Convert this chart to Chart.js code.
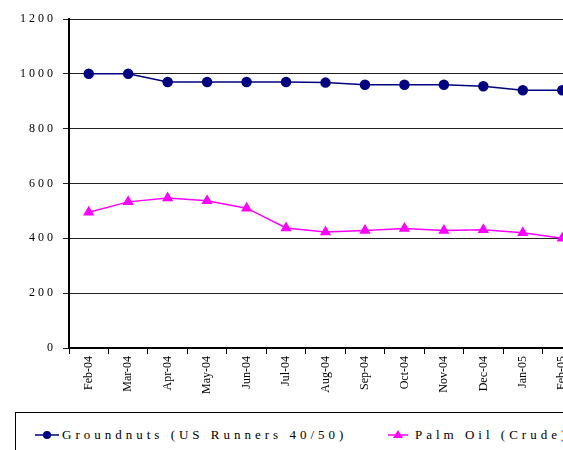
<!DOCTYPE html>
<html>
<head>
<meta charset="utf-8">
<script src="https://cdn.jsdelivr.net/npm/chart.js@4.4.0/dist/chart.umd.min.js"></script>
<style>
  body { margin: 0; overflow: hidden; background: #fff; width: 563px; height: 450px; position: relative; }
  #wrap { position: absolute; left: 0; top: 0; width: 592px; height: 400px; }
  #legend { position: absolute; left: 15px; top: 412px; width: 600px; height: 60px;
            border: 1px solid #000; border-right: none; box-sizing: border-box; }
  .item { position: absolute; top: 14px; height: 16px; white-space: nowrap;
          font-family: 'Liberation Serif', 'Times New Roman', serif; font-size: 13px;
          letter-spacing: 4px; line-height: 16px; color: #000; }
  .item svg { vertical-align: top; }
  .item span { position: absolute; top: 0; }
</style>
</head>
<body>
<div id="wrap"><canvas id="chart"></canvas></div>
<div id="legend"></div>
<script>
// data
var months = ["Feb-04", "Mar-04", "Apr-04", "May-04", "Jun-04", "Jul-04", "Aug-04",
              "Sep-04", "Oct-04", "Nov-04", "Dec-04", "Jan-05", "Feb-05"];
var groundnuts = [1000, 1000, 970, 970, 970, 970, 968, 960, 960, 960, 955, 940, 940];
var palmOil = [495, 533, 547, 537, 510, 438, 423, 429, 436, 429, 431, 420, 400];
var seriesNames = ["Groundnuts (US Runners 40/50)", "Palm Oil (Crude)"];
var yTicks = [0, 200, 400, 600, 800, 1000, 1200];

var serif = "'Liberation Serif', 'Times New Roman', serif";

// spaced-out y tick labels, like the original
var spacedLabels = {
  id: 'spacedLabels',
  beforeDraw: function(chart) {
    var y = chart.scales.y;
    if (y && !y._spaced) {
      var orig = y.drawLabels;
      y.drawLabels = function(area) {
        var c = this.ctx;
        c.save();
        c.letterSpacing = '3px';
        orig.call(this, area);
        c.restore();
      };
      y._spaced = true;
    }
  }
};

var chart = new Chart(document.getElementById('chart'), {
  type: 'line',
  data: {
    labels: months,
    datasets: [
      {
        label: seriesNames[0],
        data: groundnuts,
        borderColor: '#000080',
        backgroundColor: '#000080',
        borderWidth: 1.5,
        pointStyle: 'circle',
        pointRadius: 4.5,
        pointHoverRadius: 4.5,
        tension: 0
      },
      {
        label: seriesNames[1],
        data: palmOil,
        borderColor: '#ff00ff',
        backgroundColor: '#ff00ff',
        borderWidth: 1.5,
        pointStyle: 'triangle',
        pointRadius: 5,
        pointHoverRadius: 5,
        tension: 0
      }
    ]
  },
  options: {
    responsive: true,
    maintainAspectRatio: false,
    animation: false,
    layout: { padding: { top: 19, right: 10, left: 0, bottom: 0 } },
    plugins: {
      legend: { display: false },
      tooltip: { enabled: false }
    },
    scales: {
      x: {
        type: 'category',
        offset: true,
        grid: { offset: true, drawOnChartArea: false, drawTicks: true, tickLength: 6, color: '#000' },
        border: { color: '#000', width: 2 },
        ticks: {
          color: '#000',
          font: { family: serif, size: 12 },
          minRotation: 90,
          maxRotation: 90,
          padding: 2,
          autoSkip: false
        },
        afterFit: function(s) { s.height = 52; }
      },
      y: {
        min: 0,
        max: 1200,
        afterBuildTicks: function(s) { s.ticks = yTicks.map(function(v) { return { value: v }; }); },
        grid: { color: '#222', lineWidth: 1, tickLength: 6 },
        border: { color: '#000', width: 2 },
        ticks: {
          color: '#000',
          font: { family: serif, size: 12 },
          padding: 7,
          callback: function(v) { return String(v); }
        },
        afterFit: function(s) { s.width = 69; }
      }
    }
  },
  plugins: [spacedLabels]
});

// Excel-style legend: line with marker, then the name
var legend = document.getElementById('legend');
var markers = [
  { left: 19, line: 24, shape: '<circle cx="12" cy="8" r="4" fill="#000080"/>', color: '#000080', textAt: 27 },
  { left: 372, line: 20, shape: '<polygon points="10,3 15,11 5,11" fill="#ff00ff"/>', color: '#ff00ff', textAt: 27 }
];
markers.forEach(function(m, i) {
  var d = document.createElement('div');
  d.className = 'item';
  d.style.left = m.left + 'px';
  d.innerHTML = '<svg width="' + m.line + '" height="16"><line x1="0" y1="8" x2="' + m.line +
    '" y2="8" stroke="' + m.color + '" stroke-width="1.5"/>' + m.shape + '</svg>' +
    '<span style="left:' + m.textAt + 'px">' + seriesNames[i] + '</span>';
  legend.appendChild(d);
});
</script>
</body>
</html>
